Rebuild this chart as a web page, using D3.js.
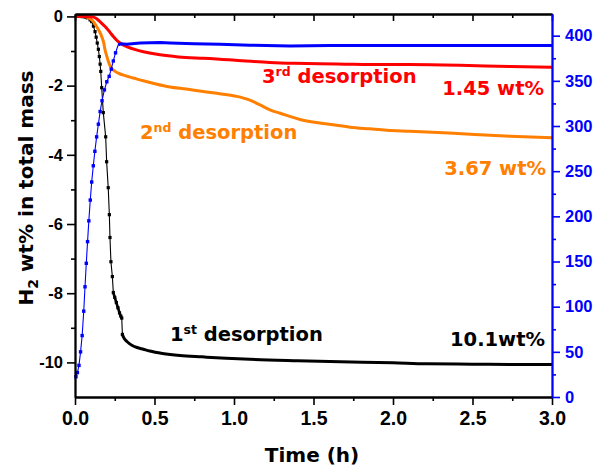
<!DOCTYPE html>
<html><head><meta charset="utf-8">
<script src="https://cdn.jsdelivr.net/npm/d3@7"></script>
<style>body{margin:0;background:#fff} svg{display:block}</style>
</head><body>
<script>
// ---------- data ----------
const timeTicks = [0, 0.5, 1, 1.5, 2, 2.5, 3];
const timeTickLabels = ["0.0", "0.5", "1.0", "1.5", "2.0", "2.5", "3.0"];
const timeMinorTicks = [0.25, 0.75, 1.25, 1.75, 2.25, 2.75];
const massTicks = [0, -2, -4, -6, -8, -10];
const massTickLabels = ["0", "-2", "-4", "-6", "-8", "-10"];
const massMinorTicks = [-1, -3, -5, -7, -9];
const tempTicks = [0, 50, 100, 150, 200, 250, 300, 350, 400];
const tempTickLabels = ["0", "50", "100", "150", "200", "250", "300", "350", "400"];
const tempMinorTicks = [25, 75, 125, 175, 225, 275, 325, 375];

// 1st desorption (black)
const firstTime = [0, 0.03, 0.06, 0.08, 0.095, 0.105, 0.116, 0.126, 0.133, 0.14, 0.147, 0.153, 0.158, 0.162, 0.168, 0.178, 0.193, 0.199, 0.209, 0.216, 0.220, 0.226, 0.235, 0.241, 0.25, 0.26, 0.27, 0.28, 0.288, 0.294, 0.298, 0.305, 0.315, 0.325, 0.34, 0.36, 0.39, 0.43, 0.47, 0.55, 0.66, 0.8, 0.95, 1.1, 1.4, 1.67, 2.0, 2.21, 2.5, 2.8, 3.0];
const firstMass = [0, 0, -0.02, -0.06, -0.1, -0.15, -0.28, -0.44, -0.6, -0.77, -0.95, -1.16, -1.38, -1.59, -2.06, -2.78, -3.48, -4.2, -4.95, -5.73, -6.39, -7.09, -7.52, -7.98, -8.12, -8.27, -8.42, -8.57, -8.66, -8.72, -9.19, -9.27, -9.34, -9.39, -9.45, -9.51, -9.57, -9.62, -9.67, -9.74, -9.8, -9.84, -9.88, -9.91, -9.95, -9.98, -10.01, -10.04, -10.05, -10.06, -10.06];

// 2nd desorption (orange)
const secondTime = [0, 0.06, 0.08, 0.105, 0.12, 0.136, 0.152, 0.168, 0.18, 0.189, 0.2, 0.21, 0.22, 0.23, 0.25, 0.272, 0.32, 0.367, 0.43, 0.49, 0.597, 0.7, 0.807, 0.92, 1.017, 1.06, 1.1, 1.16, 1.226, 1.29, 1.352, 1.415, 1.54, 1.625, 1.73, 1.855, 1.96, 2.107, 2.38, 2.736, 3.0];
const secondMass = [0, 0, -0.03, -0.1, -0.18, -0.29, -0.42, -0.58, -0.75, -0.97, -1.15, -1.3, -1.42, -1.5, -1.58, -1.64, -1.72, -1.78, -1.86, -1.93, -2.04, -2.1, -2.17, -2.24, -2.31, -2.36, -2.42, -2.55, -2.7, -2.8, -2.89, -2.98, -3.08, -3.13, -3.2, -3.25, -3.29, -3.32, -3.38, -3.46, -3.51];

// 3rd desorption (red)
const thirdTime = [0, 0.05, 0.09, 0.117, 0.14, 0.157, 0.18, 0.199, 0.22, 0.241, 0.272, 0.3, 0.325, 0.38, 0.43, 0.535, 0.65, 0.807, 0.912, 1.05, 1.226, 1.38, 1.54, 1.7, 1.855, 2.1, 2.42, 2.736, 3.0];
const thirdMass = [0, 0, -0.01, -0.02, -0.08, -0.15, -0.25, -0.34, -0.46, -0.58, -0.73, -0.82, -0.87, -0.96, -1.02, -1.11, -1.17, -1.21, -1.235, -1.28, -1.33, -1.355, -1.37, -1.38, -1.39, -1.39, -1.41, -1.45, -1.47];

// temperature (blue, right axis)
const tempTime = [0.006, 0.015, 0.025, 0.035, 0.045, 0.055, 0.063, 0.071, 0.079, 0.087, 0.096, 0.105, 0.115, 0.125, 0.136, 0.147, 0.158, 0.17, 0.185, 0.2, 0.215, 0.228, 0.241, 0.255, 0.272, 0.29, 0.325, 0.41, 0.535, 0.6, 0.75, 0.912, 1.1, 1.352, 1.6, 1.855, 2.2, 2.6, 3.0];
const tempValue = [22.5, 27, 35, 50, 68, 95, 122, 148, 172, 195, 218, 238, 256, 272, 288, 302, 316, 328, 340, 349, 355, 363, 372, 381, 390, 391, 390.5, 392, 392.5, 392, 391, 390.5, 389.5, 388.5, 389, 389, 389, 389, 389];

// annotations: [main, superscript, rest]
const firstLabel = ["1", "st", " desorption"];
const secondLabel = ["2", "nd", " desorption"];
const thirdLabel = ["3", "rd", " desorption"];
const firstAmount = "10.1wt%";
const secondAmount = "3.67 wt%";
const thirdAmount = "1.45 wt%";
const xTitle = "Time (h)";
const yTitle = ["H", "2", " wt% in total mass"];

// ---------- drawing ----------
const W = 596, H = 467;
const L = 75, R = 552, T = 14, B = 397;
const BLACK = "#000", ORANGE = "#ff8000", RED = "#ff0000", BLUE = "#0000ff";
const tickFont = "'Liberation Sans', Arial, sans-serif";
const labFont = "'DejaVu Sans', sans-serif";

const svg = d3.select("body").append("svg").attr("width", W).attr("height", H);

const x = d3.scaleLinear().domain([0, 3]).range([L, R]);
const y = d3.scaleLinear().domain([-11, 0.07]).range([B, T]);
const y2 = d3.scaleLinear().domain([0, 424]).range([B, T]);

function zipPts(ts, vs) { return ts.map((t, i) => [t, vs[i]]); }
const first = zipPts(firstTime, firstMass);
const second = zipPts(secondTime, secondMass);
const third = zipPts(thirdTime, thirdMass);
const temp = zipPts(tempTime, tempValue);

const lineL = d3.line().x(d => x(d[0])).y(d => y(d[1]));
const lineLs = d3.line().x(d => x(d[0])).y(d => y(d[1])).curve(d3.curveMonotoneX);
const lineR = d3.line().x(d => x(d[0])).y(d => y2(d[1]));

const plot = svg.append("g");

// black: thin line + markers, dense segments thick
plot.append("path").attr("d", lineL(first)).attr("fill", "none").attr("stroke", BLACK).attr("stroke-width", 1.1);
plot.append("path").attr("d", lineL(first.filter(d => d[0] >= 0.241 && d[0] <= 0.294))).attr("fill", "none").attr("stroke", BLACK).attr("stroke-width", 2.6);
plot.append("path").attr("d", lineLs(first.filter(d => d[0] >= 0.298))).attr("fill", "none").attr("stroke", BLACK).attr("stroke-width", 3);
plot.append("path").attr("d", lineL(first.filter(d => d[0] <= 0.09))).attr("fill", "none").attr("stroke", BLACK).attr("stroke-width", 3);
plot.selectAll("rect.m1").data(first.filter(d => d[0] > 0.09 && d[0] < 0.3)).join("rect")
  .attr("x", d => x(d[0]) - 1.6).attr("y", d => y(d[1]) - 1.6).attr("width", 3.2).attr("height", 3.2).attr("fill", BLACK);

// orange
plot.append("path").attr("d", lineLs(second)).attr("fill", "none").attr("stroke", ORANGE).attr("stroke-width", 3);
// red
plot.append("path").attr("d", lineLs(third)).attr("fill", "none").attr("stroke", RED).attr("stroke-width", 3);
// blue
plot.append("path").attr("d", lineR(temp)).attr("fill", "none").attr("stroke", BLUE).attr("stroke-width", 1.1);
plot.append("path").attr("d", lineR(temp.filter(d => d[0] >= 0.272))).attr("fill", "none").attr("stroke", BLUE).attr("stroke-width", 3);
plot.selectAll("rect.m2").data(temp.filter(d => d[0] < 0.272)).join("rect")
  .attr("x", d => x(d[0]) - 1.7).attr("y", d => y2(d[1]) - 1.7).attr("width", 3.4).attr("height", 3.4).attr("fill", BLUE);

// ---------- axes ----------
function styleAxis(g, color, fs, family) {
  g.selectAll("path.domain").attr("stroke", color).attr("stroke-width", 1.8);
  g.selectAll("line").attr("stroke", color).attr("stroke-width", 1.6);
  g.selectAll("text").attr("fill", color).attr("font-size", fs).attr("font-family", family).attr("font-weight", "bold");
}
// bottom
const gB = svg.append("g").attr("transform", `translate(0,${B})`)
  .call(d3.axisBottom(x).tickValues(timeTicks).tickFormat((d, i) => timeTickLabels[i]).tickSize(8).tickSizeOuter(0).tickPadding(6));
styleAxis(gB, BLACK, 19.5, tickFont);
const gBm = svg.append("g").attr("transform", `translate(0,${B})`)
  .call(d3.axisBottom(x).tickValues(timeMinorTicks).tickFormat("").tickSize(4).tickSizeOuter(0));
styleAxis(gBm, BLACK, 10, tickFont);
// top
const gT = svg.append("g").attr("transform", `translate(0,${T})`)
  .call(d3.axisTop(x).tickValues(timeTicks).tickFormat("").tickSize(-7).tickSizeOuter(0));
styleAxis(gT, BLACK, 10, tickFont);
const gTm = svg.append("g").attr("transform", `translate(0,${T})`)
  .call(d3.axisTop(x).tickValues(timeMinorTicks).tickFormat("").tickSize(-4).tickSizeOuter(0));
styleAxis(gTm, BLACK, 10, tickFont);
// left
const gL = svg.append("g").attr("transform", `translate(${L},0)`)
  .call(d3.axisLeft(y).tickValues(massTicks).tickFormat((d, i) => massTickLabels[i]).tickSize(8).tickSizeOuter(0).tickPadding(4));
styleAxis(gL, BLACK, 16.5, tickFont);
const gLm = svg.append("g").attr("transform", `translate(${L},0)`)
  .call(d3.axisLeft(y).tickValues(massMinorTicks).tickFormat("").tickSize(4).tickSizeOuter(0));
styleAxis(gLm, BLACK, 10, tickFont);
// right (blue)
const gR = svg.append("g").attr("transform", `translate(${R},0)`)
  .call(d3.axisRight(y2).tickValues(tempTicks).tickFormat((d, i) => tempTickLabels[i]).tickSize(8).tickSizeOuter(0).tickPadding(5));
styleAxis(gR, BLUE, 16.5, tickFont);
const gRm = svg.append("g").attr("transform", `translate(${R},0)`)
  .call(d3.axisRight(y2).tickValues(tempMinorTicks).tickFormat("").tickSize(4).tickSizeOuter(0));
styleAxis(gRm, BLUE, 10, tickFont);

// ---------- titles ----------
svg.append("text").attr("x", 312).attr("y", 462).attr("text-anchor", "middle")
  .attr("font-family", labFont).attr("font-weight", "bold").attr("font-size", 20).attr("fill", BLACK).text(xTitle);

const yt = svg.append("text").attr("transform", "translate(33,188) rotate(-90)").attr("text-anchor", "middle")
  .attr("font-family", labFont).attr("font-weight", "bold").attr("font-size", 20).attr("fill", BLACK);
yt.append("tspan").text(yTitle[0]);
yt.append("tspan").attr("font-size", 14).attr("dy", 5).text(yTitle[1]);
yt.append("tspan").attr("dy", -5).text(yTitle[2]);

// ---------- annotations ----------
function supLabel(parts, px, py, color) {
  const t = svg.append("text").attr("x", px).attr("y", py)
    .attr("font-family", labFont).attr("font-weight", "bold").attr("font-size", 19.5).attr("fill", color);
  t.append("tspan").text(parts[0]);
  t.append("tspan").attr("font-size", 12.5).attr("dy", -7).text(parts[1]);
  t.append("tspan").attr("dy", 7).text(parts[2]);
}
supLabel(firstLabel, 170, 341, BLACK);
supLabel(secondLabel, 140, 139, ORANGE);
supLabel(thirdLabel, 262, 83, RED);

function amount(txt, px, py, color) {
  svg.append("text").attr("x", px).attr("y", py).attr("text-anchor", "end")
    .attr("font-family", labFont).attr("font-weight", "bold").attr("font-size", 19.5).attr("fill", color).text(txt);
}
amount(firstAmount, 545, 346, BLACK);
amount(secondAmount, 546, 175, ORANGE);
amount(thirdAmount, 544, 95, RED);
</script>
</body></html>
